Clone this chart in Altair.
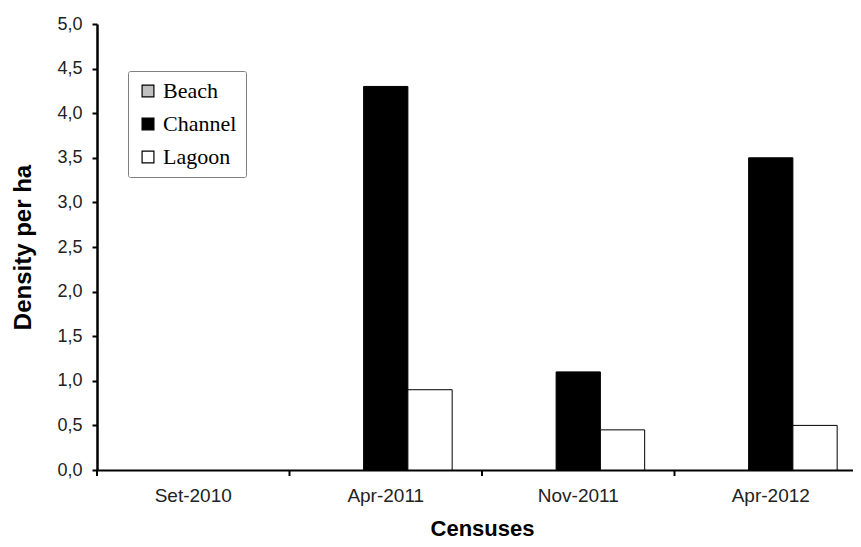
import altair as alt
import pandas as pd

censuses = ["Set-2010", "Apr-2011", "Nov-2011", "Apr-2012"]
habitats = ["Beach", "Channel", "Lagoon"]
beach = [0.0, 0.0, 0.0, 0.0]
channel = [0.0, 4.3, 1.1, 3.5]
lagoon = [0.0, 0.9, 0.45, 0.5]
y_ticks = [0, 0.5, 1, 1.5, 2, 2.5, 3, 3.5, 4, 4.5, 5]

rows = []
for i, c in enumerate(censuses):
    rows.append({"census": c, "habitat": "Beach", "density": beach[i]})
    rows.append({"census": c, "habitat": "Channel", "density": channel[i]})
    rows.append({"census": c, "habitat": "Lagoon", "density": lagoon[i]})
df = pd.DataFrame(rows)

W, H = 756, 446
RANGE = 770
P_IN, P_OUT = 0.31, 0.155
STEP = RANGE / (len(censuses) - P_IN + 2 * P_OUT)

xscale = alt.Scale(domain=censuses, paddingInner=P_IN, paddingOuter=P_OUT, range=[0, RANGE])

bars = alt.Chart(df).mark_bar(stroke="black", strokeWidth=1).encode(
    x=alt.X("census:N", scale=xscale, sort=censuses,
            axis=alt.Axis(title="Censuses", labelAngle=0, ticks=False, tickSize=0,
                          labelPadding=16, titlePadding=13, domainColor="black",
                          domainWidth=2, labelFont="Liberation Sans", labelFontSize=19,
                          labelColor="#222222", titleFont="Liberation Sans",
                          titleFontSize=22, titleFontWeight="bold", titleColor="black")),
    xOffset=alt.XOffset("habitat:N", sort=habitats, scale=alt.Scale(paddingInner=0, paddingOuter=0)),
    y=alt.Y("density:Q", scale=alt.Scale(domain=[0, 5], nice=False),
            axis=alt.Axis(title="Density per ha", values=y_ticks, grid=False,
                          labelExpr="replace(format(datum.value, '.1f'), '.', ',')",
                          tickSize=5, tickColor="black", tickWidth=2, domainColor="black",
                          domainWidth=2.5, labelPadding=10, titlePadding=21,
                          labelFont="Liberation Sans", labelFontSize=18, labelColor="#222222",
                          titleFont="Liberation Sans", titleFontSize=24,
                          titleFontWeight="bold", titleColor="black")),
    fill=alt.Fill("habitat:N", sort=habitats,
                  scale=alt.Scale(domain=habitats, range=["#c0c0c0", "#000000", "#ffffff"]),
                  legend=alt.Legend(title=None, orient="none", legendX=31, legendY=47,
                                    strokeColor="#808080", fillColor="white", padding=9,
                                    symbolType="square", symbolSize=140,
                                    symbolStrokeColor="black", symbolStrokeWidth=1.2,
                                    labelFont="Liberation Serif", labelFontSize=22,
                                    labelColor="black", rowPadding=11, labelOffset=4,
                                    cornerRadius=2)),
    strokeOpacity=alt.condition("datum.density > 0", alt.value(1), alt.value(0)),
)

ticks_df = pd.DataFrame({"census": censuses})
tick_rules = alt.Chart(ticks_df).mark_rule(
    color="black", strokeWidth=2, xOffset=-STEP * P_OUT
).encode(
    x=alt.X("census:N", scale=xscale, sort=censuses, bandPosition=0),
    y=alt.value(H),
    y2=alt.value(H + 6),
)

chart = alt.layer(bars, tick_rules).properties(
    width=W, height=H,
    autosize=alt.AutoSizeParams(type="none"),
    padding={"left": 89, "top": 16, "right": 0, "bottom": 69},
).configure(background="white").configure_view(stroke=None)

chart.save("out.html", embed_options={"renderer": "svg", "actions": False})
